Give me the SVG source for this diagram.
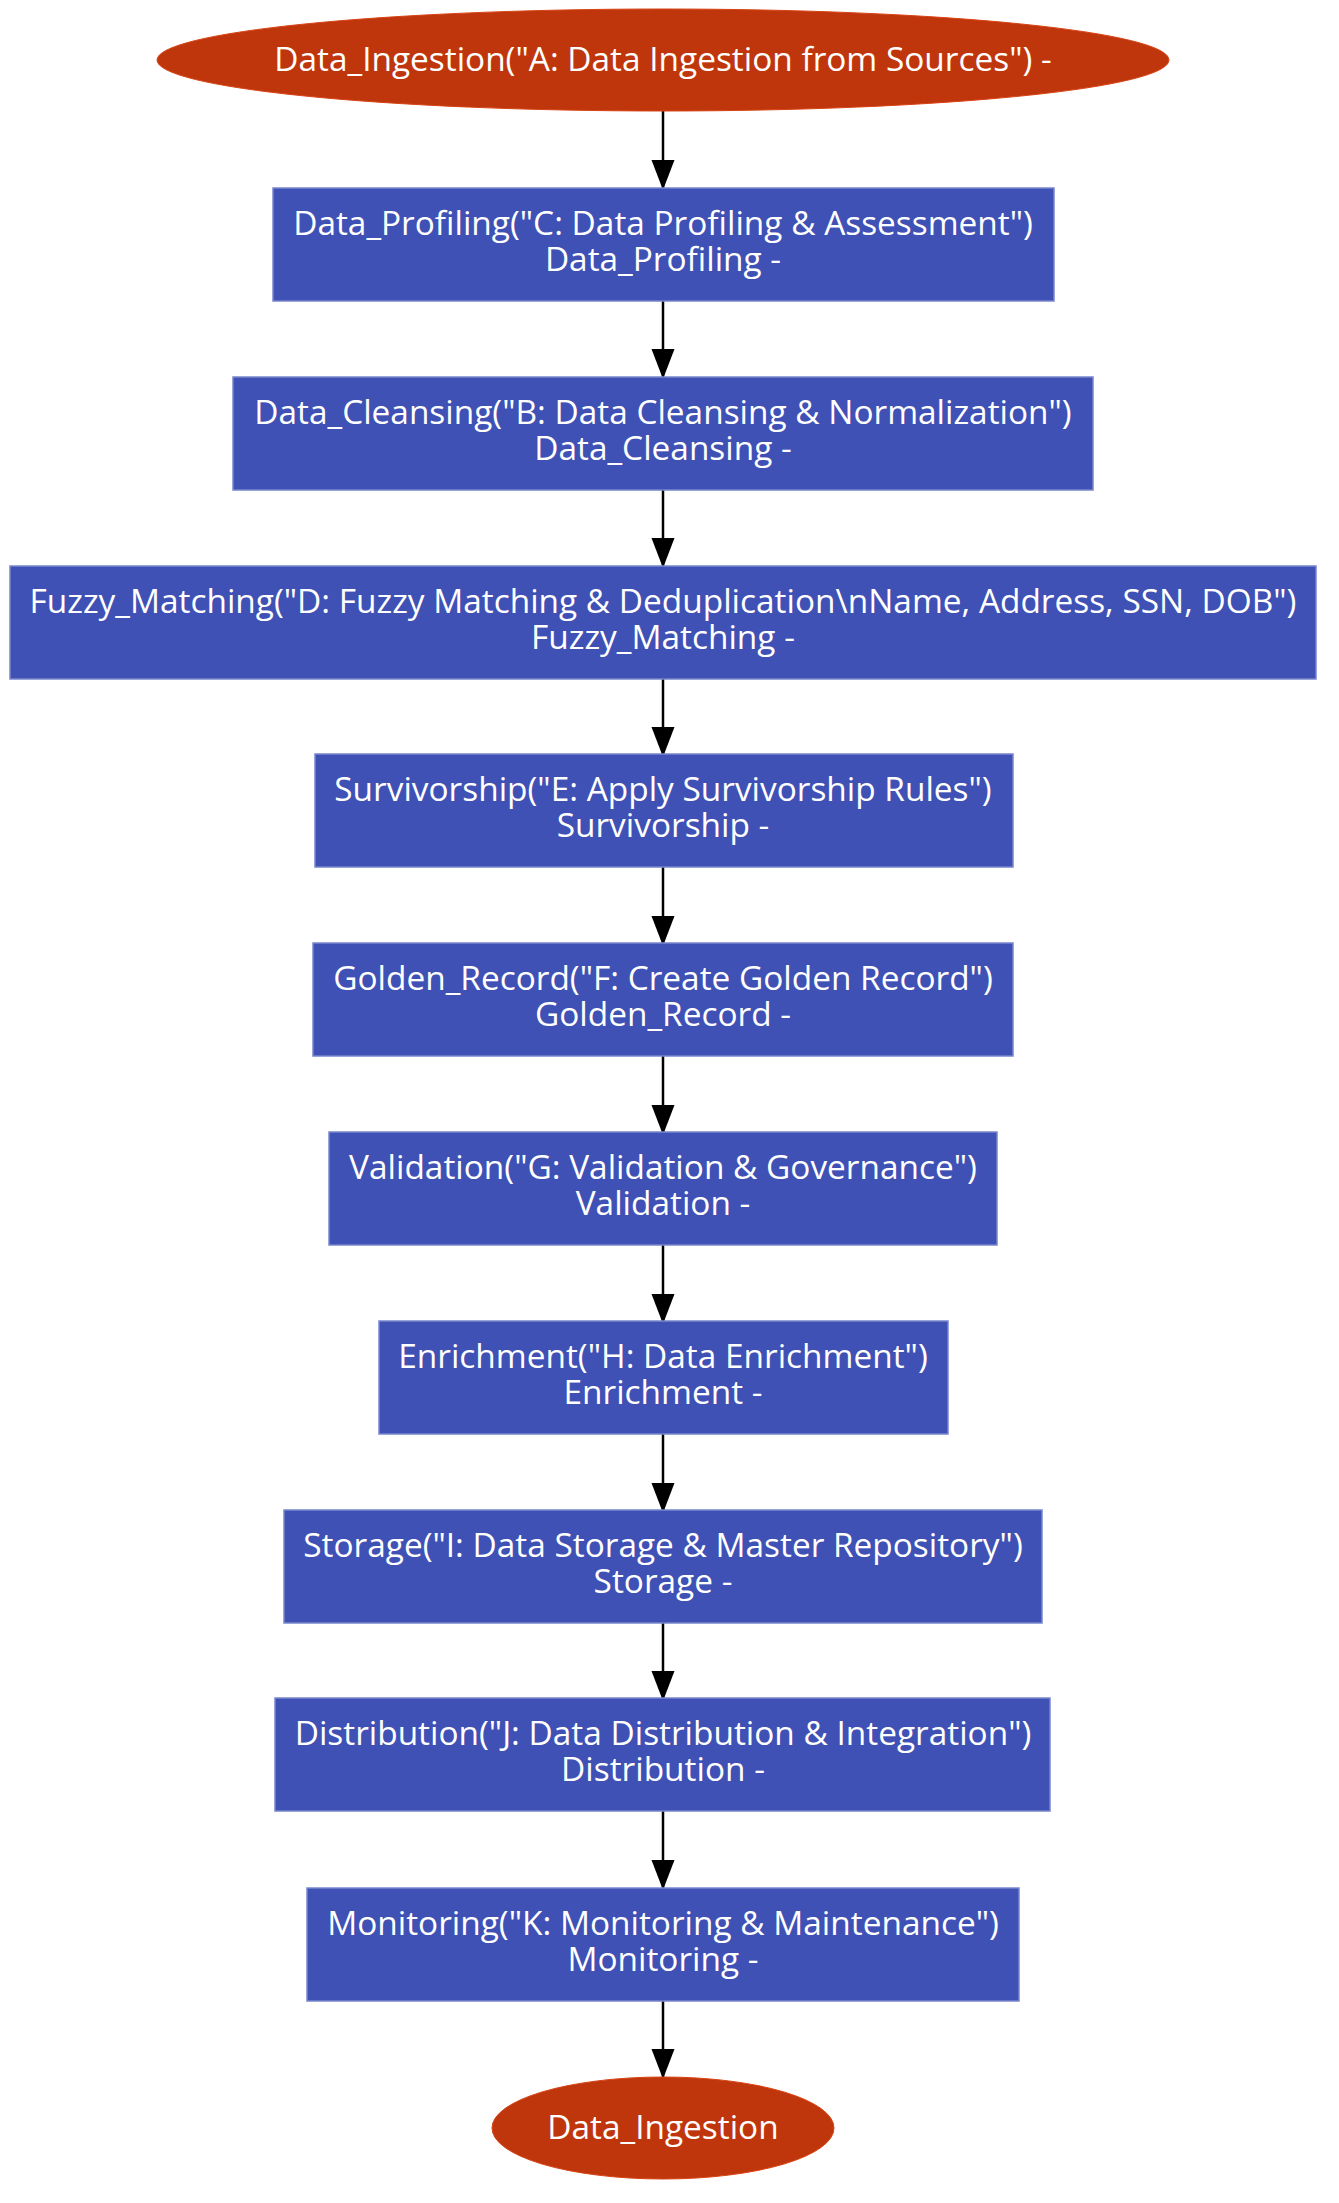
<svg xmlns="http://www.w3.org/2000/svg" width="1339" height="2203" viewBox="0 0 1339 2203">
<style>
.term{fill:#BF360C;stroke:#D84315;stroke-width:1}
.proc{fill:#3F51B5;stroke:#7986CB;stroke-width:1.5}
.lbl{font-family:"Open Sans","Noto Sans",sans-serif;font-size:33.4px;fill:#FFFFFF;text-anchor:middle}
.edge{stroke:#000000;stroke-width:2.5;fill:none;marker-end:url(#arr)}
</style>
<defs>
<marker id="arr" markerUnits="userSpaceOnUse" markerWidth="30" markerHeight="24" refX="30" refY="12" orient="auto">
<path d="M0,0.5 L30,12 L0,23.5 z" fill="#000000"/>
</marker>
</defs>
<rect width="1339" height="2203" fill="#FFFFFF"/>
<g id="connectors">
<line class="edge" x1="663" y1="111" x2="663" y2="190"/>
<line class="edge" x1="663" y1="301" x2="663" y2="379"/>
<line class="edge" x1="663" y1="490" x2="663" y2="568"/>
<line class="edge" x1="663" y1="679" x2="663" y2="757"/>
<line class="edge" x1="663" y1="867" x2="663" y2="946"/>
<line class="edge" x1="663" y1="1056" x2="663" y2="1135"/>
<line class="edge" x1="663" y1="1245" x2="663" y2="1324"/>
<line class="edge" x1="663" y1="1434" x2="663" y2="1513"/>
<line class="edge" x1="663" y1="1623" x2="663" y2="1701"/>
<line class="edge" x1="663" y1="1811" x2="663" y2="1890"/>
<line class="edge" x1="663" y1="2001" x2="663" y2="2079"/>
</g>
<g id="Data_Ingestion_start">
<ellipse class="term" cx="663" cy="60" rx="506" ry="51"/>
<text class="lbl" x="663" y="71">Data_Ingestion("A: Data Ingestion from Sources") -</text>
</g>
<g id="Data_Profiling">
<rect class="proc" x="273" y="188" width="781" height="113"/>
<text class="lbl" x="663" y="235">Data_Profiling("C: Data Profiling &amp; Assessment")</text>
<text class="lbl" x="663" y="271">Data_Profiling -</text>
</g>
<g id="Data_Cleansing">
<rect class="proc" x="233" y="377" width="860" height="113"/>
<text class="lbl" x="663" y="424">Data_Cleansing("B: Data Cleansing &amp; Normalization")</text>
<text class="lbl" x="663" y="460">Data_Cleansing -</text>
</g>
<g id="Fuzzy_Matching">
<rect class="proc" x="10" y="566" width="1306" height="113"/>
<text class="lbl" x="663" y="613">Fuzzy_Matching("D: Fuzzy Matching &amp; Deduplication\nName, Address, SSN, DOB")</text>
<text class="lbl" x="663" y="649">Fuzzy_Matching -</text>
</g>
<g id="Survivorship">
<rect class="proc" x="315" y="754" width="698" height="113"/>
<text class="lbl" x="663" y="801">Survivorship("E: Apply Survivorship Rules")</text>
<text class="lbl" x="663" y="837">Survivorship -</text>
</g>
<g id="Golden_Record">
<rect class="proc" x="313" y="943" width="700" height="113"/>
<text class="lbl" x="663" y="990">Golden_Record("F: Create Golden Record")</text>
<text class="lbl" x="663" y="1026">Golden_Record -</text>
</g>
<g id="Validation">
<rect class="proc" x="329" y="1132" width="668" height="113"/>
<text class="lbl" x="663" y="1179">Validation("G: Validation &amp; Governance")</text>
<text class="lbl" x="663" y="1215">Validation -</text>
</g>
<g id="Enrichment">
<rect class="proc" x="379" y="1321" width="569" height="113"/>
<text class="lbl" x="663" y="1368">Enrichment("H: Data Enrichment")</text>
<text class="lbl" x="663" y="1404">Enrichment -</text>
</g>
<g id="Storage">
<rect class="proc" x="284" y="1510" width="758" height="113"/>
<text class="lbl" x="663" y="1557">Storage("I: Data Storage &amp; Master Repository")</text>
<text class="lbl" x="663" y="1593">Storage -</text>
</g>
<g id="Distribution">
<rect class="proc" x="275" y="1698" width="775" height="113"/>
<text class="lbl" x="663" y="1745">Distribution("J: Data Distribution &amp; Integration")</text>
<text class="lbl" x="663" y="1781">Distribution -</text>
</g>
<g id="Monitoring">
<rect class="proc" x="307" y="1888" width="712" height="113"/>
<text class="lbl" x="663" y="1935">Monitoring("K: Monitoring &amp; Maintenance")</text>
<text class="lbl" x="663" y="1971">Monitoring -</text>
</g>
<g id="Data_Ingestion_end">
<ellipse class="term" cx="663" cy="2128" rx="171" ry="51"/>
<text class="lbl" x="663" y="2139">Data_Ingestion</text>
</g>
</svg>
